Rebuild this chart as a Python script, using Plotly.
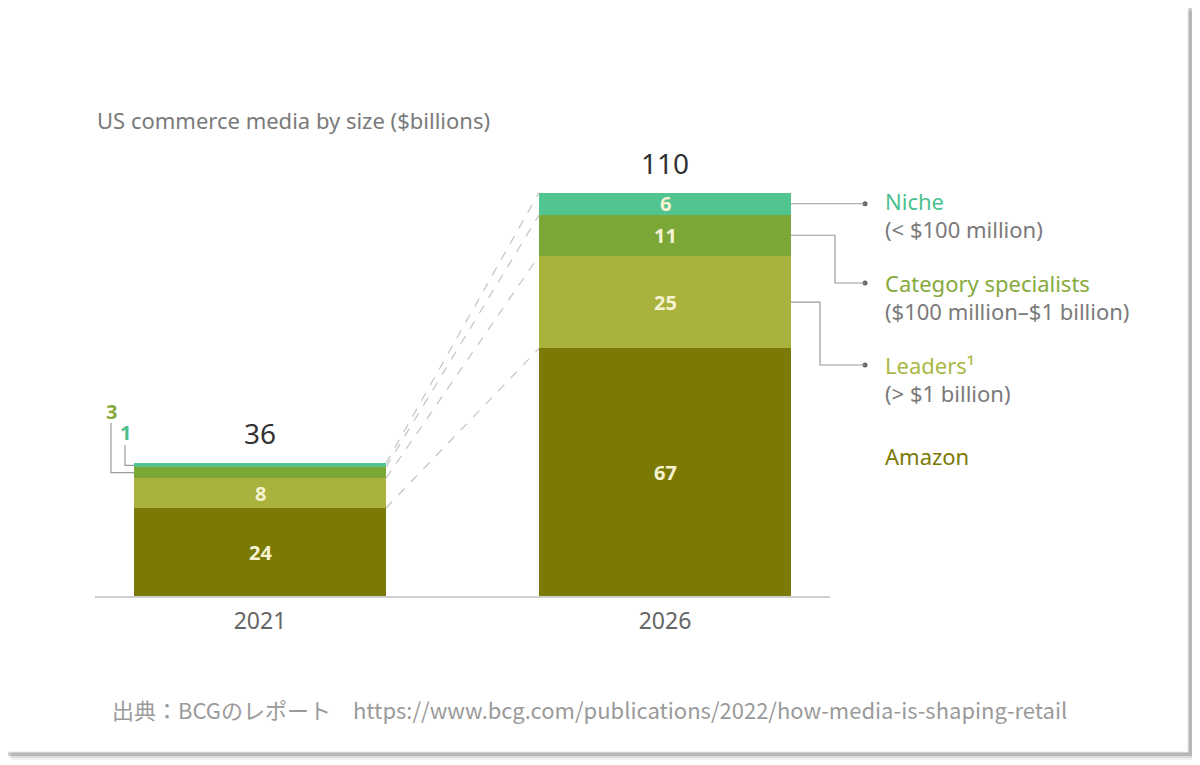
import plotly.graph_objects as go
import numpy as np

# US commerce media by size ($billions), BCG
years = ["2021", "2026"]
amazon = [24, 67]
leaders = [8, 25]
category = [3, 11]
niche = [1, 6]
totals = [36, 110]

seg_names = ["Amazon", "Leaders", "Category specialists", "Niche"]
seg_vals = [amazon, leaders, category, niche]
seg_colors = ["#7b7a05", "#a9b23d", "#7aa735", "#52c48f"]
legend_sub = ["", "(> $1 billion)", "($100 million–$1 billion)", "(< $100 million)"]
legend_title = ["Amazon", "Leaders¹", "Category specialists", "Niche"]
legend_colors = ["#7b7a05", "#a9b845", "#86aa3c", "#4dbf8f"]

PAD = 8                      # page body margin
W, H = 1200 - PAD, 765 - PAD
BASE_PX = 597                # baseline in page pixels
X0_PX, X_SCALE = 260, 405    # centre of first bar, px per category step
Y_SCALE = 3.71               # px per $bn
bw = 0.622

def dx(px):
    return (px - X0_PX) / X_SCALE

def dy(py):
    return (BASE_PX - py) / Y_SCALE

def ppx(px):
    return (px - PAD) / W

def ppy(py):
    return (BASE_PX - py) / (BASE_PX - PAD)

xs = np.arange(len(years))
font = "Noto Sans"

fig = go.Figure()
for name, vals, col in zip(seg_names, seg_vals, seg_colors):
    fig.add_trace(go.Bar(x=xs, y=vals, name=name, width=bw, marker_color=col,
                         marker_line_width=0, hoverinfo="skip"))

cum = np.cumsum(np.array(seg_vals), axis=0)
base = cum - np.array(seg_vals)

annotations = []
# values inside the bars
for s in range(len(seg_vals)):
    for i in range(len(years)):
        v = seg_vals[s][i]
        if v < 5:
            continue
        annotations.append(dict(x=xs[i], y=base[s][i] + v / 2, text="<b>%d</b>" % v,
                                showarrow=False, font=dict(size=20, color="#f6f3d2", family=font)))
# totals
for i in range(len(years)):
    annotations.append(dict(x=xs[i], y=cum[-1][i], yshift=30, text=str(totals[i]), showarrow=False,
                            font=dict(size=28, color="#333333", family=font)))

shapes = []
# card shadow + card
for k, op in enumerate([0.08, 0.15, 0.28]):
    off = 8 - k * 2
    shapes.append(dict(type="rect", xref="paper", yref="paper", layer="below",
                       x0=ppx(4 + off), x1=ppx(1188 + off), y0=ppy(752 + off), y1=ppy(4 + off),
                       fillcolor="rgba(90,90,90,%.2f)" % op, line_width=0))
shapes.append(dict(type="rect", xref="paper", yref="paper", layer="below",
                   x0=ppx(4), x1=ppx(1188), y0=ppy(752), y1=ppy(4),
                   fillcolor="white", line=dict(color="#ececec", width=1)))
# baseline
shapes.append(dict(type="line", xref="x", yref="paper", x0=dx(95), x1=dx(830), y0=0, y1=0,
                   line=dict(color="#cfcfcf", width=2)))

# dashed links between bars
for s in range(len(seg_vals)):
    shapes.append(dict(type="line", x0=xs[0] + bw / 2, y0=cum[s][0], x1=xs[1] - bw / 2, y1=cum[s][1],
                       line=dict(color="#c4c4c4", width=1.2, dash="dash")))

# left call-outs for small 2021 segments
left_lab = [(2, 111, 411, 423), (3, 125, 432, 445)]
for s, lx, ly, ltop in left_lab:
    mid = base[s][0] + seg_vals[s][0] / 2
    shapes.append(dict(type="path",
                       path="M %f %f L %f %f L %f %f" % (dx(lx), dy(ltop), dx(lx), mid, xs[0] - bw / 2, mid),
                       line=dict(color="#9a9a9a", width=1.2)))
    annotations.append(dict(x=dx(lx), y=dy(ly), text="<b>%d</b>" % seg_vals[s][0], showarrow=False,
                            font=dict(size=20, color=legend_colors[s], family=font)))

# right legend
dot_x = dx(865)
txt_x = dx(883)
leg_y = {3: 201, 2: 283, 1: 365, 0: 456}
elbow = {3: None, 2: 835, 1: 820}
dots_x, dots_y = [], []
for s in [3, 2, 1, 0]:
    ty = dy(leg_y[s])
    annotations.append(dict(x=txt_x, y=ty, xanchor="left", text=legend_title[s], showarrow=False,
                            font=dict(size=22, color=legend_colors[s], family=font)))
    if legend_sub[s]:
        annotations.append(dict(x=txt_x, y=dy(leg_y[s] + 28), xanchor="left", text=legend_sub[s],
                                showarrow=False, font=dict(size=22, color="#7a7a7a", family=font)))
    if s == 0:
        continue
    mid = base[s][1] + seg_vals[s][1] / 2
    x_edge = xs[1] + bw / 2
    if elbow[s] is None:
        path = "M %f %f L %f %f" % (x_edge, mid, dot_x, mid)
        ty = mid
    else:
        ex = dx(elbow[s])
        path = "M %f %f L %f %f L %f %f L %f %f" % (x_edge, mid, ex, mid, ex, ty, dot_x, ty)
    shapes.append(dict(type="path", path=path, line=dict(color="#9a9a9a", width=1.2)))
    dots_x.append(dot_x)
    dots_y.append(ty)

fig.add_trace(go.Scatter(x=dots_x, y=dots_y, mode="markers", marker=dict(size=5, color="#666666"),
                         hoverinfo="skip", showlegend=False))

# title and source
annotations.append(dict(x=dx(95), y=dy(120), xanchor="left", text="US commerce media by size ($billions)",
                        showarrow=False, font=dict(size=22, color="#7a7a7a", family=font)))
annotations.append(dict(x=ppx(589), y=ppy(709), xref="paper", yref="paper", xanchor="center", yanchor="middle",
                        text="出典：BCGのレポート　https://www.bcg.com/publications/2022/how-media-is-shaping-retail",
                        showarrow=False, font=dict(size=22, color="#9a9a9a", family="Noto Sans CJK JP")))

fig.update_layout(
    width=W, height=H, barmode="stack", showlegend=False,
    margin=dict(l=0, r=0, t=0, b=H - (BASE_PX - PAD)),
    paper_bgcolor="white", plot_bgcolor="rgba(0,0,0,0)",
    xaxis=dict(range=[dx(PAD), dx(PAD + W)], tickvals=xs, ticktext=years, showgrid=False, zeroline=False,
               showline=False, ticks="", ticklabelstandoff=8,
               tickfont=dict(size=23, color="#666666", family=font)),
    yaxis=dict(range=[0, dy(PAD)], visible=False),
    shapes=shapes, annotations=annotations,
)

fig.write_html("out.html")
